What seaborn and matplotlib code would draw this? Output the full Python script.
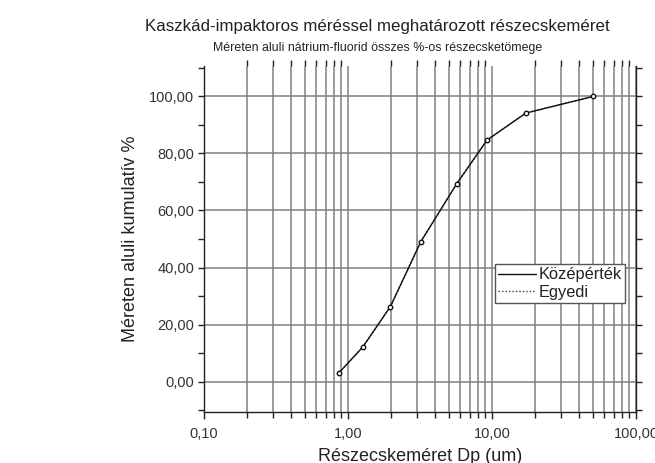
import matplotlib
matplotlib.use("Agg")
import matplotlib.pyplot as plt
import matplotlib.ticker as mticker
from matplotlib.lines import Line2D
import seaborn as sns
import pandas as pd
import numpy as np

# Data
particle_size = [0.866, 1.265, 1.97, 3.2, 5.69, 9.23, 17.2, 50.3]
cum_mean = [3.05, 12.07, 26.3, 49.0, 69.4, 84.7, 94.2, 100.0]
cum_individual = [3.05, 12.07, 26.3, 49.0, 69.4, 84.7, 94.2, 100.0]
series_labels = ["Középérték", "Egyedi"]
x_ticks = [0.1, 1, 10, 100]
x_ticklabels = ["0,10", "1,00", "10,00", "100,00"]
y_ticks = [0, 20, 40, 60, 80, 100]
y_ticklabels = ["0,00", "20,00", "40,00", "60,00", "80,00", "100,00"]

sns.set_theme(style="white")
plt.rcParams['font.family'] = ['Liberation Sans', 'DejaVu Sans']

fig = plt.figure(figsize=(6.55, 4.63), dpi=100)
ax = fig.add_axes([204/655, 1-412/463, 432/655, 346/463])

df = pd.DataFrame({"x": particle_size, "mean": cum_mean, "ind": cum_individual})

sns.lineplot(data=df, x="x", y="ind", ax=ax, color="#333333", lw=1.0,
             linestyle=(0, (1, 1.5)), label=series_labels[1], zorder=3)
sns.lineplot(data=df, x="x", y="mean", ax=ax, color="#111111", lw=1.0,
             marker="o", markersize=3.2, markerfacecolor="white",
             markeredgecolor="#111111", markeredgewidth=1.0,
             label=series_labels[0], zorder=4)

ax.set_xscale("log")
ax.set_xlim(0.1, 100)
ax.set_ylim(-10.7, 110.7)

ax.xaxis.set_minor_locator(mticker.LogLocator(base=10, subs=np.arange(2, 10)))
ax.xaxis.set_minor_formatter(mticker.NullFormatter())
ax.set_xticks(x_ticks)
ax.set_xticklabels(x_ticklabels)
ax.set_yticks(y_ticks)
ax.set_yticklabels(y_ticklabels)
ax.yaxis.set_minor_locator(mticker.FixedLocator([-10, 10, 30, 50, 70, 90, 110]))

grid_c = "#808080"
ax.grid(True, which="major", axis="both", color=grid_c, lw=1.1)
ax.grid(True, which="minor", axis="x", color=grid_c, lw=1.1)
ax.set_axisbelow(True)

for s in ["left", "right", "bottom"]:
    ax.spines[s].set_visible(True)
    ax.spines[s].set_color("#222222")
    ax.spines[s].set_linewidth(1.0)
ax.spines["top"].set_visible(False)

ax.tick_params(axis="both", which="both", direction="out", colors="#222222",
               labelcolor="#333333", labelsize=10.5)
ax.tick_params(axis="x", which="major", length=5, width=1, top=False, bottom=True, pad=6)
ax.tick_params(axis="x", which="minor", length=4, width=1, top=True, bottom=True)
ax.tick_params(axis="y", which="major", length=4, width=1, left=True, right=True, pad=3)
ax.tick_params(axis="y", which="minor", length=4, width=1, left=True, right=True)

ax.set_xlabel("Részecskeméret Dp (um)", fontsize=13, color="#222222", labelpad=5)
ax.set_ylabel("Méreten aluli kumulatív %", fontsize=13, color="#222222", labelpad=7)

h = [Line2D([], [], color="#111111", lw=1.0),
     Line2D([], [], color="#333333", lw=1.0, linestyle=(0, (1, 1.5)))]
leg = ax.legend(h, series_labels, loc="lower right",
                bbox_to_anchor=(0.975, 0.315), frameon=True, fancybox=False,
                fontsize=11.8, handlelength=2.3, handletextpad=0.2,
                borderpad=0.2, labelspacing=0.15, borderaxespad=0)
leg.get_frame().set_edgecolor("#555555")
leg.get_frame().set_linewidth(1.0)
leg.get_frame().set_alpha(1)
for t in leg.get_texts():
    t.set_color("#222222")

fig.text(377/655, 1-27/463, "Kaszkád-impaktoros méréssel meghatározott részecskeméret",
         ha="center", va="center", fontsize=12.2, color="#222222")
fig.text(378/655, 1-48/463, "Méreten aluli nátrium-fluorid összes %-os részecsketömege",
         ha="center", va="center", fontsize=8.9, color="#222222")

fig.savefig("out.png", dpi=100)
